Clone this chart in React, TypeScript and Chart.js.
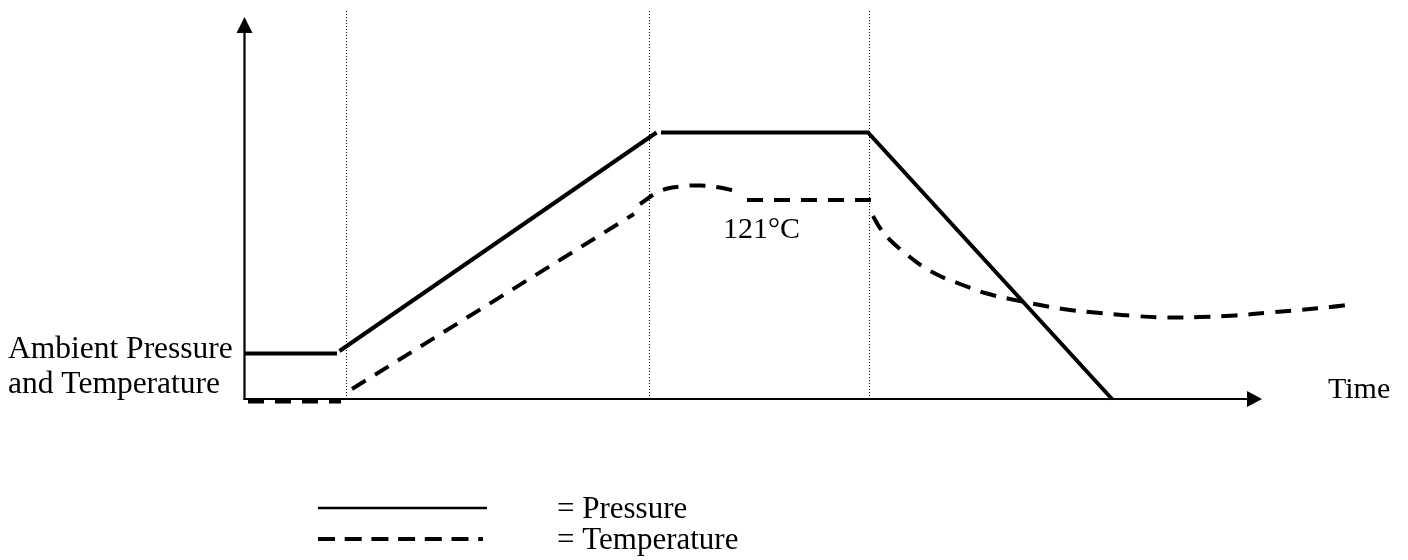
import React, { useEffect, useRef } from "react";
import { Chart, registerables } from "chart.js";

Chart.register(...registerables);

// x = time (arbitrary units), y = level above the time axis (arbitrary units)
const pressureAmbient = [
  { x: 0, y: 4.55 },
  { x: 9.25, y: 4.55 },
];
const pressureRamp = [
  { x: 9.5, y: 4.8 },
  { x: 41.2, y: 26.65 },
];
const pressureHoldVent = [
  { x: 41.65, y: 26.65 },
  { x: 62.35, y: 26.65 },
  { x: 86.75, y: 0 },
];

const temperatureAmbient = [
  { x: 0.35, y: -0.25 },
  { x: 9.65, y: -0.25 },
];
const temperatureRamp = [
  { x: 10.75, y: 1.0 },
  { x: 38.95, y: 18.5 },
];
const temperatureOvershoot = [
  { x: 39.55, y: 19.5 },
  { x: 41.55, y: 20.8 },
  { x: 43.55, y: 21.25 },
  { x: 45.55, y: 21.35 },
  { x: 47.55, y: 21.15 },
  { x: 49.25, y: 20.75 },
];
const temperatureHold = [
  { x: 50.25, y: 19.9 },
  { x: 62.75, y: 19.9 },
];
const temperatureCooling = [
  { x: 62.85, y: 18.3 },
  { x: 63.55, y: 17.1 },
  { x: 64.55, y: 15.9 },
  { x: 66.05, y: 14.6 },
  { x: 67.75, y: 13.3 },
  { x: 69.55, y: 12.3 },
  { x: 71.55, y: 11.5 },
  { x: 74.05, y: 10.6 },
  { x: 76.55, y: 10.0 },
  { x: 79.55, y: 9.4 },
  { x: 82.55, y: 8.9 },
  { x: 85.55, y: 8.6 },
  { x: 89.05, y: 8.3 },
  { x: 92.25, y: 8.15 },
  { x: 95.55, y: 8.2 },
  { x: 99.05, y: 8.35 },
  { x: 102.55, y: 8.65 },
  { x: 105.55, y: 8.9 },
  { x: 108.55, y: 9.2 },
  { x: 110.65, y: 9.45 },
];

const phaseBoundaries = [10.2, 40.5, 62.5];
const phaseBoundaryTop = 38.9;
const timeAxisEnd = 101.75;
const levelAxisEnd = 38.2;

const ambientLabel = ["Ambient Pressure", "and Temperature"];
const timeLabel = "Time";
const holdLabel = "121°C";
const holdLabelAt = { x: 47.85, y: 16.1 };
const timeLabelAt = { x: 108.35, y: 0.1 };
const legendLabels = ["= Pressure", "= Temperature"];

const SERIF = '"Liberation Serif", "Times New Roman", serif';

const decorPlugin = {
  id: "decor",
  beforeDatasetsDraw(chart: any) {
    const { ctx } = chart;
    const xs = chart.scales.x;
    const ys = chart.scales.y;
    const X = (v: number) => xs.getPixelForValue(v);
    const Y = (v: number) => ys.getPixelForValue(v);
    ctx.save();
    ctx.strokeStyle = "#000";
    ctx.fillStyle = "#000";

    // dotted phase boundaries
    ctx.lineWidth = 1;
    ctx.setLineDash([1, 2]);
    for (const b of phaseBoundaries) {
      ctx.beginPath();
      ctx.moveTo(X(b), Y(0));
      ctx.lineTo(X(b), Y(phaseBoundaryTop));
      ctx.stroke();
    }
    ctx.setLineDash([]);

    // axes with arrowheads
    const ox = X(0);
    const oy = Y(0);
    const yTip = Y(levelAxisEnd);
    const xTip = X(timeAxisEnd);
    ctx.lineWidth = 2.2;
    ctx.beginPath();
    ctx.moveTo(ox, oy + 1);
    ctx.lineTo(ox, yTip + 14);
    ctx.stroke();
    ctx.lineWidth = 2;
    ctx.beginPath();
    ctx.moveTo(ox - 1, oy);
    ctx.lineTo(xTip - 14, oy);
    ctx.stroke();

    ctx.beginPath();
    ctx.moveTo(ox, yTip);
    ctx.lineTo(ox - 8, yTip + 16);
    ctx.lineTo(ox + 8, yTip + 16);
    ctx.closePath();
    ctx.fill();

    ctx.beginPath();
    ctx.moveTo(xTip, oy);
    ctx.lineTo(xTip - 15, oy - 8);
    ctx.lineTo(xTip - 15, oy + 8);
    ctx.closePath();
    ctx.fill();

    ctx.restore();
  },
  afterDraw(chart: any) {
    const { ctx } = chart;
    const xs = chart.scales.x;
    const ys = chart.scales.y;
    const X = (v: number) => xs.getPixelForValue(v);
    const Y = (v: number) => ys.getPixelForValue(v);
    ctx.save();
    ctx.fillStyle = "#000";
    ctx.textBaseline = "alphabetic";
    ctx.textAlign = "left";

    ctx.font = `31.5px ${SERIF}`;
    ctx.fillText(ambientLabel[0], 8, 358);
    ctx.fillText(ambientLabel[1], 8, 393);

    ctx.font = `30px ${SERIF}`;
    ctx.fillText(timeLabel, X(timeLabelAt.x), Y(timeLabelAt.y));
    ctx.fillText(holdLabel, X(holdLabelAt.x), Y(holdLabelAt.y));

    // legend
    ctx.font = `31px ${SERIF}`;
    ctx.fillText(legendLabels[0], 557, 518);
    ctx.fillText(legendLabels[1], 557, 549);

    ctx.strokeStyle = "#000";
    ctx.lineWidth = 2.5;
    ctx.beginPath();
    ctx.moveTo(318, 508);
    ctx.lineTo(487, 508);
    ctx.stroke();

    ctx.lineWidth = 4;
    ctx.setLineDash([17, 9.7]);
    ctx.beginPath();
    ctx.moveTo(318, 539);
    ctx.lineTo(483, 539);
    ctx.stroke();
    ctx.restore();
  },
};

const solid = (data: { x: number; y: number }[]) => ({
  data,
  borderColor: "#000",
  borderWidth: 4,
  borderJoinStyle: "miter" as const,
  tension: 0,
  pointRadius: 0,
  fill: false,
});

const dashed = (data: { x: number; y: number }[], tension = 0) => ({
  data,
  borderColor: "#000",
  borderWidth: 4,
  borderDash: [16, 11],
  tension,
  pointRadius: 0,
  fill: false,
});

export default function App() {
  const ref = useRef<HTMLCanvasElement>(null);
  useEffect(() => {
    if (!ref.current) return;
    const chart = new Chart(ref.current, {
      type: "line",
      data: {
        datasets: [
          solid(pressureAmbient),
          solid(pressureRamp),
          solid(pressureHoldVent),
          dashed(temperatureAmbient),
          dashed(temperatureRamp),
          dashed(temperatureOvershoot, 0.4),
          dashed(temperatureHold),
          dashed(temperatureCooling, 0.4),
        ] as any,
      },
      options: {
        responsive: false,
        maintainAspectRatio: false,
        animation: false,
        events: [],
        layout: { padding: { left: 244.5, right: 3.5, top: 9, bottom: 151 } },
        scales: {
          x: { type: "linear", min: 0, max: 116, display: false },
          y: { type: "linear", min: -1, max: 39, display: false },
        },
        plugins: {
          legend: { display: false },
          tooltip: { enabled: false },
        },
      },
      plugins: [decorPlugin],
    });
    return () => chart.destroy();
  }, []);
  return (
    <div
      style={{
        position: "absolute",
        left: 0,
        top: 0,
        width: 1408,
        height: 560,
        background: "#fff",
      }}
    >
      <canvas
        ref={ref}
        width={1408}
        height={560}
        style={{ display: "block", width: 1408, height: 560 }}
      />
    </div>
  );
}
